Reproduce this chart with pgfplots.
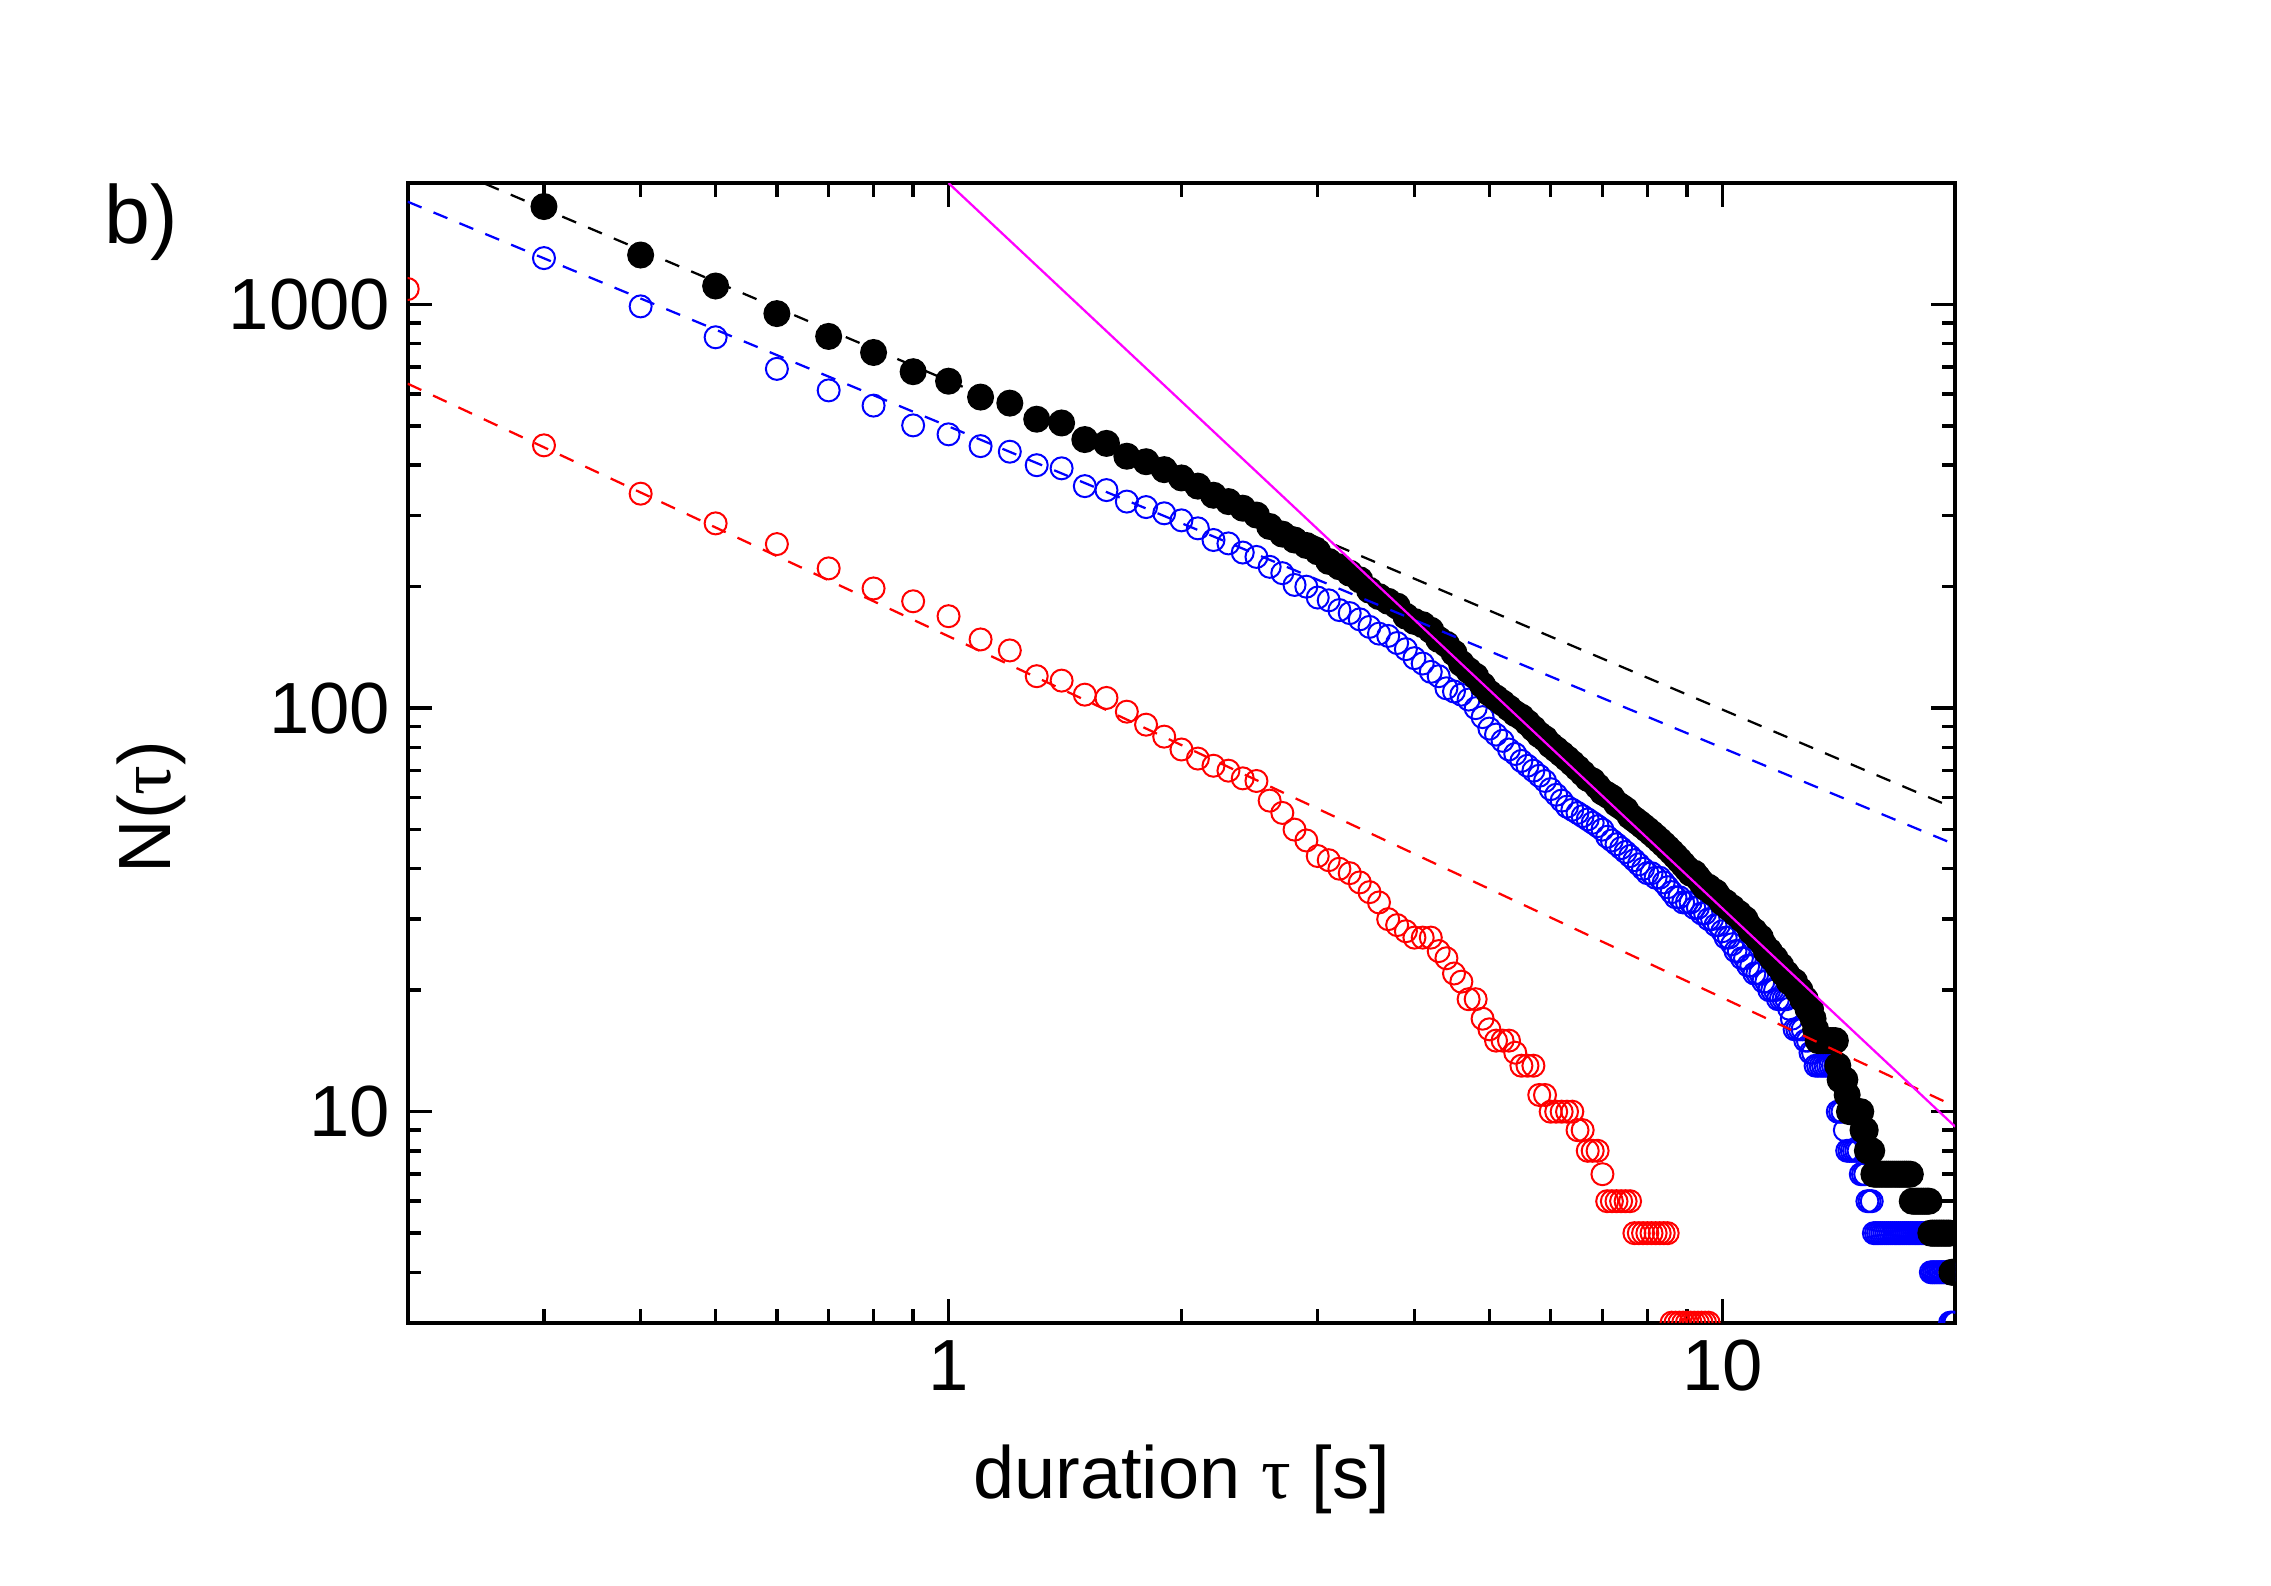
\documentclass[border=0pt]{standalone}
\usepackage{fontspec}
\setmainfont{Liberation Sans}
\newfontfamily\greekfont{Liberation Serif}
\usepackage{pgfplots}
\pgfplotsset{compat=1.18}
\definecolor{fitmag}{RGB}{255,0,255}
\definecolor{pblue}{RGB}{0,0,255}
\definecolor{pred}{RGB}{255,0,0}
\newcommand{\tauch}{{\greekfont τ}}
\begin{document}
\begin{tikzpicture}
\begin{axis}[
  scale only axis, width=309.5pt, height=227.9pt,
  xmode=log, ymode=log,
  xmin=0.2, xmax=20, ymin=3, ymax=2000,
  log ticks with fixed point,
  /pgf/number format/1000 sep={},
  /pgf/number format/assume math mode=true,
  tick align=inside,
  major tick length=4.8pt, minor tick length=2.7pt,
  every tick/.style={black, line width=0.7pt},
  axis line style={line width=0.8pt},
  tick label style={font=\fontsize{14.5}{17}\selectfont},
  label style={font=\fontsize{14.8}{17}\selectfont},
  xlabel={duration \tauch\ [s]},
  ylabel={N(\tauch)},
  xlabel style={at={(axis description cs:0.5,-0.1547)}, anchor=base},
  ylabel style={at={(axis description cs:-0.1532,0.4526)}, anchor=base, rotate=0},
  clip=true,
  clip marker paths=true,
]
% red open circles
\addplot[only marks, mark=o, pred, mark size=2.2pt, mark options={line width=0.4pt}] table {
0.2 1093
0.3 448
0.4 340
0.5 287
0.6 255
0.7 222
0.8 198
0.9 184
1.0 169
1.1 148
1.2 139
1.3 120
1.4 117
1.5 108
1.6 106
1.7 98
1.8 91
1.9 85
2.0 79
2.1 75
2.2 72
2.3 70
2.4 67
2.5 66
2.6 59
2.7 55
2.8 50
2.9 47
3.0 43
3.1 42
3.2 40
3.3 39
3.4 37
3.5 35
3.6 33
3.7 30
3.8 29
3.9 28
4.0 27
4.1 27
4.2 27
4.3 25
4.4 24
4.5 22
4.6 21
4.7 19
4.8 19
4.9 17
5.0 16
5.1 15
5.2 15
5.3 15
5.4 14
5.5 13
5.6 13
5.7 13
5.8 11
5.9 11
6.0 10
6.1 10
6.2 10
6.3 10
6.4 10
6.5 9
6.6 9
6.7 8
6.8 8
6.9 8
7.0 7
7.1 6
7.2 6
7.3 6
7.4 6
7.5 6
7.6 6
7.7 5
7.8 5
7.9 5
8.0 5
8.1 5
8.2 5
8.3 5
8.4 5
8.5 5
8.6 3
8.7 3
8.8 3
8.9 3
9.0 3
9.1 3
9.2 3
9.3 3
9.4 3
9.5 3
9.6 3
};
% blue open circles
\addplot[only marks, mark=o, pblue, mark size=2.2pt, mark options={line width=0.4pt}] table {
0.3 1304
0.4 990
0.5 830
0.6 693
0.7 613
0.8 562
0.9 502
1.0 477
1.1 446
1.2 432
1.3 400
1.4 393
1.5 355
1.6 347
1.7 325
1.8 315
1.9 304
2.0 292
2.1 279
2.2 261
2.3 256
2.4 243
2.5 237
2.6 224
2.7 216
2.8 202
2.9 200
3.0 188
3.1 185
3.2 175
3.3 172
3.4 166
3.5 159
3.6 153
3.7 151
3.8 145
3.9 140
4.0 133
4.1 129
4.2 123
4.3 120
4.4 112
4.5 110
4.6 108
4.7 105
4.8 100
4.9 95
5.0 89
5.1 86
5.2 83
5.3 79
5.4 77
5.5 74
5.6 72
5.7 70
5.8 68
5.9 66
6.0 63
6.1 61
6.2 59
6.3 57
6.4 56
6.5 55
6.6 54
6.7 53
6.8 52
6.9 51
7.0 50
7.1 48
7.2 47
7.3 46
7.4 45
7.5 44
7.6 43
7.7 42
7.8 41
7.9 40
8.0 39
8.1 39
8.2 38
8.3 38
8.4 37
8.5 36
8.6 35
8.7 34
8.8 34
8.9 33
9.0 33
9.1 33
9.2 32
9.3 32
9.4 31
9.5 31
9.6 30
9.7 30
9.8 29
9.9 29
10.0 28
10.1 27
10.2 27
10.3 26
10.4 25
10.5 25
10.6 24
10.7 24
10.8 23
10.9 23
11.0 22
11.1 22
11.2 22
11.3 21
11.4 21
11.5 20
11.6 20
11.7 20
11.8 19
11.9 19
12.0 19
12.1 19
12.2 18
12.3 17
12.4 16
12.5 16
12.6 16
12.7 16
12.8 15
12.9 15
13.0 14
13.1 14
13.2 13
13.3 13
13.4 13
13.5 13
13.6 13
13.7 13
13.8 13
13.9 13
14.0 13
14.1 10
14.2 10
14.3 10
14.4 9
14.5 8
14.6 8
14.7 8
14.8 8
14.9 8
15.0 8
15.1 7
15.2 7
15.3 7
15.4 6
15.5 6
15.6 6
15.7 5
15.8 5
15.9 5
16.0 5
16.1 5
16.2 5
16.3 5
16.4 5
16.5 5
16.6 5
16.7 5
16.8 5
16.9 5
17.0 5
17.1 5
17.2 5
17.3 5
17.4 5
17.5 5
17.6 5
17.7 5
17.8 5
17.9 5
18.0 5
18.1 5
18.2 5
18.3 5
18.4 5
18.5 5
18.6 4
18.7 4
18.8 4
18.9 4
19.0 4
19.1 4
19.2 4
19.3 4
19.4 4
19.5 4
19.6 4
19.7 3
19.8 3
19.9 3
20.0 3
};
% black filled circles
\addplot[only marks, mark=*, black, mark size=2.5pt] table {
0.3 1750
0.4 1327
0.5 1112
0.6 950
0.7 834
0.8 761
0.9 682
1.0 646
1.1 590
1.2 570
1.3 520
1.4 509
1.5 463
1.6 453
1.7 421
1.8 408
1.9 390
2.0 372
2.1 355
2.2 337
2.3 325
2.4 313
2.5 301
2.6 282
2.7 270
2.8 261
2.9 253
3.0 244
3.1 231
3.2 224
3.3 216
3.4 208
3.5 196
3.6 189
3.7 184
3.8 179
3.9 169
4.0 164
4.1 161
4.2 156
4.3 148
4.4 144
4.5 137
4.6 129
4.7 124
4.8 120
4.9 114
5.0 109
5.1 106
5.2 103
5.3 100
5.4 97
5.5 95
5.6 92
5.7 89
5.8 86
5.9 84
6.0 81
6.1 79
6.2 77
6.3 75
6.4 73
6.5 71
6.6 69
6.7 67
6.8 66
6.9 64
7.0 62
7.1 61
7.2 60
7.3 58
7.4 57
7.5 56
7.6 54
7.7 53
7.8 52
7.9 51
8.0 50
8.1 49
8.2 48
8.3 47
8.4 46
8.5 45
8.6 44
8.7 43
8.8 42
8.9 41
9.0 40
9.1 39
9.2 39
9.3 38
9.4 37
9.5 36
9.6 36
9.7 35
9.8 35
9.9 34
10.0 33
10.1 33
10.2 32
10.3 32
10.4 31
10.5 31
10.6 30
10.7 30
10.8 29
10.9 28
11.0 28
11.1 27
11.2 27
11.3 26
11.4 25
11.5 25
11.6 24
11.7 24
11.8 23
11.9 23
12.0 22
12.1 22
12.2 21
12.3 21
12.4 21
12.5 20
12.6 20
12.7 19
12.8 19
12.9 18
13.0 18
13.1 17
13.2 16
13.3 15
13.4 15
13.5 15
13.6 15
13.7 15
13.8 15
13.9 15
14.0 15
14.1 13
14.2 12
14.3 12
14.4 12
14.5 11
14.6 10
14.7 10
14.8 10
14.9 10
15.0 10
15.1 10
15.2 9
15.3 9
15.4 8
15.5 8
15.6 8
15.7 7
15.8 7
15.9 7
16.0 7
16.1 7
16.2 7
16.3 7
16.4 7
16.5 7
16.6 7
16.7 7
16.8 7
16.9 7
17.0 7
17.1 7
17.2 7
17.3 7
17.4 7
17.5 7
17.6 6
17.7 6
17.8 6
17.9 6
18.0 6
18.1 6
18.2 6
18.3 6
18.4 6
18.5 6
18.6 5
18.7 5
18.8 5
18.9 5
19.0 5
19.1 5
19.2 5
19.3 5
19.4 5
19.5 5
19.6 5
19.7 5
19.8 4
19.9 4
20.0 4
};
% power-law fits
\addplot[black, line width=0.45pt, dash pattern=on 3pt off 2.6pt] coordinates {(0.2,2404) (20,56.4)};
\addplot[pblue, line width=0.45pt, dash pattern=on 3pt off 2.6pt] coordinates {(0.2,1799) (20,45.9)};
\addplot[pred, line width=0.45pt, dash pattern=on 3pt off 2.6pt] coordinates {(0.2,637) (20,10.3)};
\addplot[fitmag, line width=0.45pt] coordinates {(1,2000) (20,9.18)};
\end{axis}
\path (current axis.south west) ++(-81.54pt,-52.66pt) rectangle ++(454.2pt,317.2pt);
\node[anchor=base west, font=\fontsize{16.5}{19}\selectfont, inner sep=0pt] at ([xshift=-60.8pt,yshift=-12pt]current axis.north west) {b)};
\end{tikzpicture}
\end{document}
